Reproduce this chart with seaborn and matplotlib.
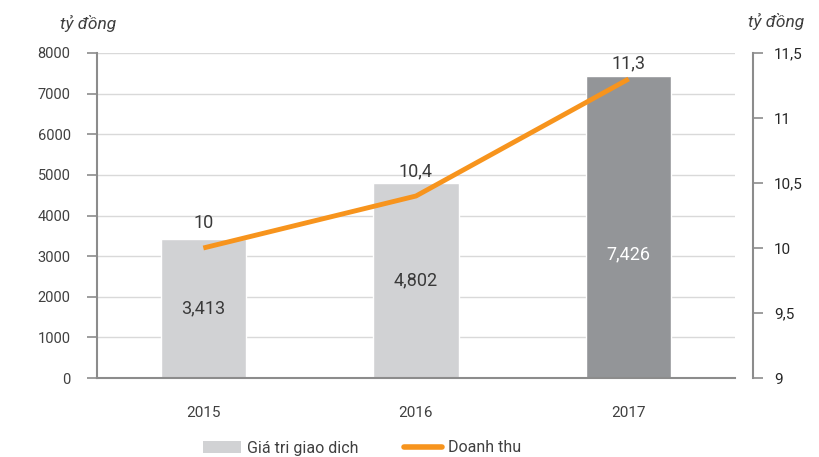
import matplotlib
matplotlib.use("Agg")
import matplotlib.pyplot as plt
import seaborn as sns
import pandas as pd
from matplotlib.patches import Patch
from matplotlib.lines import Line2D

years = ["2015", "2016", "2017"]
trade_value = [3413, 4802, 7426]
trade_labels = ["3,413", "4,802", "7,426"]
revenue = [10.0, 10.4, 11.3]
revenue_labels = ["10", "10,4", "11,3"]
left_ticks = [0, 1000, 2000, 3000, 4000, 5000, 6000, 7000, 8000]
right_ticks = [9, 9.5, 10, 10.5, 11, 11.5]
right_tick_labels = ["9", "9,5", "10", "10,5", "11", "11,5"]
bar_colors = ["#D1D2D4", "#D1D2D4", "#939598"]
label_colors = ["#3a3a3a", "#3a3a3a", "#ffffff"]
bar_label_frac = [0.5, 0.5, 0.41]
rev_label_off = [0.12, 0.12, 0.05]

sns.set_theme(style="white")
plt.rcParams['font.family'] = ['Roboto', 'DejaVu Sans']

fig = plt.figure(figsize=(8.2, 4.57), dpi=100)
ax = fig.add_axes([97/820, 1-378/457, (735-97)/820, (378-53)/457])

df = pd.DataFrame({"year": years, "value": trade_value})
sns.barplot(data=df, x="year", y="value", hue="year", palette=bar_colors,
            width=0.4, ax=ax, legend=False, saturation=1)
ax.set_xlim(-0.5, 2.5)
ax.set_ylim(0, 8000)
ax.set_yticks(left_ticks)
ax.set_yticklabels([str(t) for t in left_ticks], fontsize=10.5, color="#404040")
ax.yaxis.grid(True, color="#d9d9d9", linewidth=1)
ax.set_axisbelow(True)
ax.set_xlabel("")
ax.set_ylabel("")
ax.set_xticks([-0.5, 0.5, 1.5, 2.5])
ax.set_xticklabels([])
ax.set_xticks([0, 1, 2], minor=True)
ax.set_xticklabels(years, minor=True, fontsize=11, color="#404040")
ax.tick_params(axis="x", which="major", direction="out", length=6, color="#8c8c8c", width=1.2)
ax.tick_params(axis="x", which="minor", length=0, pad=20)
ax.tick_params(axis="y", direction="out", length=7, color="#8c8c8c", width=1.2, pad=12, left=True)
for s in ["top", "right"]:
    ax.spines[s].set_visible(False)
for s in ["left", "bottom"]:
    ax.spines[s].set_color("#8c8c8c")
    ax.spines[s].set_linewidth(1.5)

for i, (v, lab) in enumerate(zip(trade_value, trade_labels)):
    ax.text(i, v * bar_label_frac[i], lab, ha="center", va="center",
            fontsize=13, color=label_colors[i])

ax2 = ax.twinx()
ax2.set_ylim(9, 11.5)
ax2.plot([0, 1, 2], revenue, color="#F7941D", linewidth=3.5, solid_capstyle="butt")
ax2.set_yticks(right_ticks)
ax2.set_yticklabels(right_tick_labels, fontsize=10.5, color="#404040")
ax2.tick_params(axis="y", direction="out", length=7, color="#8c8c8c", width=1.2, pad=8, right=True)
ax2.spines["right"].set_position(("outward", 13))
ax2.spines["right"].set_color("#8c8c8c")
ax2.spines["right"].set_linewidth(1.5)
for s in ["top", "left", "bottom"]:
    ax2.spines[s].set_visible(False)
ax2.grid(False)

for i, (v, lab) in enumerate(zip(revenue, revenue_labels)):
    ax2.text(i, v + rev_label_off[i], lab, ha="center", va="bottom", fontsize=13, color="#3a3a3a")

fig.text(60/820, 1-23/457, "tỷ đồng", fontsize=12.5, style="italic", color="#404040", va="center", ha="left")
fig.text(748/820, 1-21/457, "tỷ đồng", fontsize=12.5, style="italic", color="#404040", va="center", ha="left")

handles = [Patch(facecolor="#D1D2D4", edgecolor="none"),
           Line2D([0], [0], color="#F7941D", linewidth=4)]
fig.legend(handles, ["Giá tri giao dich", "Doanh thu"], loc="center",
           bbox_to_anchor=(362/820, 1-448/457), ncol=2, frameon=False,
           fontsize=11.5, handlelength=2.4, columnspacing=2.8, handletextpad=0.4,
           labelcolor="#404040")

fig.savefig("out.png", dpi=100)
